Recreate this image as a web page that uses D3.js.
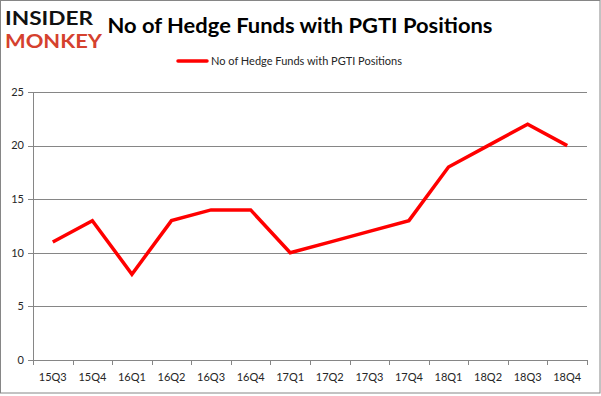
<!DOCTYPE html>
<html>
<head>
<meta charset="utf-8">
<script src="https://cdn.jsdelivr.net/npm/d3@7"></script>
<style>
  body { margin: 0; background: #fff; }
  svg { display: block; }
  text { font-family: Lato, "Open Sans", sans-serif; }
</style>
</head>
<body>
<svg width="601" height="396"></svg>
<script>
var width = 601, height = 396;

var quarters = ['15Q3', '15Q4', '16Q1', '16Q2', '16Q3', '16Q4', '17Q1', '17Q2', '17Q3', '17Q4', '18Q1', '18Q2', '18Q3', '18Q4'];
var funds = [11, 13, 8, 13, 14, 14, 10, 11, 12, 13, 18, 20, 22, 20];
var yTicks = [0, 5, 10, 15, 20, 25];
var seriesName = 'No of Hedge Funds with PGTI Positions';

var margin = {left: 33, right: 14, top: 92, bottom: 36};

var svg = d3.select('svg');

// outer frame
svg.append('rect')
    .attr('x', 0.5).attr('y', 0.5)
    .attr('width', width - 1.5).attr('height', height - 3.5)
    .attr('fill', '#fff')
    .attr('stroke', '#868686');

var x = d3.scaleBand()
    .domain(quarters)
    .range([margin.left, width - margin.right])
    .padding(0);

var y = d3.scaleLinear()
    .domain([0, 25])
    .range([height - margin.bottom, margin.top]);

// gridlines
svg.append('g')
    .selectAll('line')
    .data(yTicks)
    .join('line')
    .attr('x1', margin.left - 5)
    .attr('x2', width - margin.right)
    .attr('y1', function (d) { return Math.round(y(d)) + 0.5; })
    .attr('y2', function (d) { return Math.round(y(d)) + 0.5; })
    .attr('stroke', '#868686')
    .attr('stroke-width', 1);

// y axis
svg.append('line')
    .attr('x1', margin.left + 0.5).attr('x2', margin.left + 0.5)
    .attr('y1', y(25)).attr('y2', y(0))
    .attr('stroke', '#868686');

svg.append('g')
    .selectAll('text')
    .data(yTicks)
    .join('text')
    .attr('x', margin.left - 9)
    .attr('y', function (d) { return y(d); })
    .attr('dy', '0.35em')
    .attr('text-anchor', 'end')
    .attr('font-size', 11)
    .attr('fill', '#262626')
    .text(function (d) { return d; });

// x ticks at band edges
var edges = quarters.map(function (q) { return x(q); }).concat([x(quarters[quarters.length - 1]) + x.bandwidth()]);
svg.append('g')
    .selectAll('line')
    .data(edges)
    .join('line')
    .attr('x1', function (d) { return Math.round(d) + 0.5; })
    .attr('x2', function (d) { return Math.round(d) + 0.5; })
    .attr('y1', y(0))
    .attr('y2', y(0) + 5)
    .attr('stroke', '#868686');

svg.append('g')
    .selectAll('text')
    .data(quarters)
    .join('text')
    .attr('x', function (d) { return x(d) + x.bandwidth() / 2; })
    .attr('y', y(0) + 21)
    .attr('text-anchor', 'middle')
    .attr('font-size', 11)
    .attr('fill', '#262626')
    .text(function (d) { return d; });

// series line
var line = d3.line()
    .x(function (d, i) { return x(quarters[i]) + x.bandwidth() / 2; })
    .y(function (d) { return y(d); });

svg.append('path')
    .datum(funds)
    .attr('d', line)
    .attr('fill', 'none')
    .attr('stroke', '#ff0000')
    .attr('stroke-width', 3.5)
    .attr('stroke-linejoin', 'miter');

// title
svg.append('text')
    .attr('x', 300)
    .attr('y', 33)
    .attr('text-anchor', 'middle')
    .attr('font-size', 20)
    .attr('font-weight', 'bold')
    .attr('fill', '#000')
    .attr('textLength', 385)
    .attr('lengthAdjust', 'spacingAndGlyphs')
    .text(seriesName);

// legend
svg.append('line')
    .attr('x1', 178).attr('x2', 207)
    .attr('y1', 61).attr('y2', 61)
    .attr('stroke', '#ff0000')
    .attr('stroke-width', 3.5)
    .attr('stroke-linecap', 'round');

svg.append('text')
    .attr('x', 211)
    .attr('y', 61)
    .attr('dy', '0.35em')
    .attr('font-size', 11)
    .attr('fill', '#262626')
    .text(seriesName);

// logo
svg.append('text')
    .attr('x', 5).attr('y', 25)
    .attr('font-family', '"DejaVu Sans"')
    .attr('font-weight', 'bold')
    .attr('font-size', 18)
    .attr('textLength', 88)
    .attr('lengthAdjust', 'spacingAndGlyphs')
    .attr('fill', '#111')
    .text('INSIDER');

svg.append('text')
    .attr('x', 5).attr('y', 48)
    .attr('font-family', '"DejaVu Sans"')
    .attr('font-weight', 'bold')
    .attr('font-size', 18)
    .attr('textLength', 97)
    .attr('lengthAdjust', 'spacingAndGlyphs')
    .attr('fill', '#d5412e')
    .text('MONKEY');
</script>
</body>
</html>
